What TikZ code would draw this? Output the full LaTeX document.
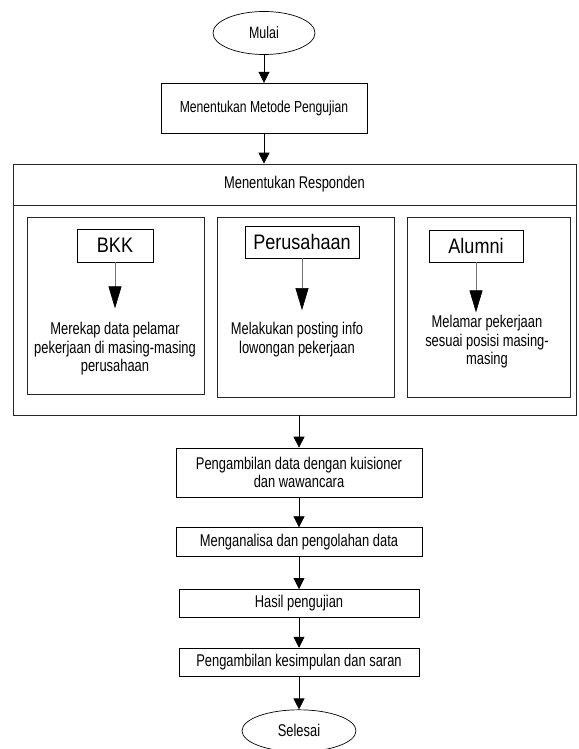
\documentclass[tikz,border=0pt]{standalone}
\usepackage{fontspec}
\setmainfont{Liberation Sans}[FakeStretch=0.76]
\newfontfamily\tagfont{Liberation Sans}[FakeStretch=0.86]
\usetikzlibrary{arrows.meta,positioning,shapes.geometric}

\begin{document}
\begin{tikzpicture}[x=1pt, y=-1pt, node distance=30pt,
    box/.style={rectangle, draw, line width=0.7pt, inner sep=0pt, align=center, font=\fontsize{17}{18.5}\selectfont},
    term/.style={ellipse, draw, line width=0.7pt, inner sep=0pt, font=\fontsize{16.4}{18}\selectfont},
    panel/.style={rectangle, draw=black!85, line width=0.7pt, inner sep=0pt},
    tag/.style={rectangle, draw, line width=0.7pt, inner sep=0pt, font=\tagfont\fontsize{21}{22}\selectfont},
    note/.style={inner sep=0pt, align=center, font=\fontsize{17}{18.5}\selectfont},
    arrow/.style={-{Triangle[length=11pt,width=11pt]}, line width=0.7pt},
    drop/.style={-{Triangle[length=22pt,width=13pt,color=black]}, draw=black!55, line width=0.6pt}]
    \useasboundingbox (0,0) rectangle (578,749);

    \node[term, minimum width=102pt, minimum height=43pt] (mulai) at (264,33) {Mulai};
    \node[box, minimum width=206pt, minimum height=50pt, font=\fontsize{16}{18}\selectfont, below=28pt of mulai] (metode) {Menentukan Metode Pengujian};

    % kotak responden
    \node[panel, minimum width=563pt, minimum height=251pt] (frame) at (294.5,289.5) {};
    \node[box, draw=black!85, minimum width=563pt, minimum height=41pt, anchor=north] (responden) at (frame.north) {Menentukan Responden};

    \node[panel, minimum width=177pt, minimum height=177pt] (bkkpanel) at (115.5,305.5) {};
    \node[panel, minimum width=177pt, minimum height=180pt] (peruspanel) at (305.5,307) {};
    \node[panel, minimum width=163pt, minimum height=180pt] (alumnipanel) at (488.5,307) {};

    \node[tag, minimum width=76pt, minimum height=33pt] (bkk) at (115,245.5) {BKK};
    \node[tag, minimum width=114pt, minimum height=32pt] (perus) at (302,242) {Perusahaan};
    \node[tag, minimum width=94pt, minimum height=32pt] (alumni) at (476,246) {Alumni};

    \node[note] (bkktext) at (115,349) {Merekap data pelamar\\pekerjaan di masing-masing\\perusahaan};
    \node[note] (perustext) at (297,339.5) {Melakukan posting info\\lowongan pekerjaan};
    \node[note] (alumnitext) at (487,342) {Melamar pekerjaan\\sesuai posisi masing-\\masing};

    \draw[drop, shorten >=14pt] (bkk) -- (bkk.south |- bkktext.north);
    \draw[drop, shorten >=12pt] (perus) -- (perus.south |- perustext.north);
    \draw[drop, shorten >=3pt] (alumni) -- (alumni.south |- alumnitext.north);

    % tahap akhir
    \node[box, minimum width=246pt, minimum height=49pt] (kuisioner) at (299,472.5) {Pengambilan data dengan kuisioner\\dan wawancara};
    \node[box, minimum width=246pt, minimum height=29pt, below=of kuisioner] (analisa) {Menganalisa dan pengolahan data};
    \node[box, minimum width=240pt, minimum height=28pt, below=32pt of analisa] (hasil) {Hasil pengujian};
    \node[box, minimum width=240pt, minimum height=28pt, below=of hasil] (simpulan) {Pengambilan kesimpulan dan saran};
    \node[term, minimum width=114pt, minimum height=42pt, font=\fontsize{17}{18}\selectfont, below=33pt of simpulan] (selesai) {Selesai};

    \draw[arrow] (mulai) -- (metode);
    \draw[arrow] (metode) -- (metode.south |- frame.north);
    \draw[arrow] (kuisioner.north |- frame.south) -- (kuisioner);
    \draw[arrow] (kuisioner) -- (analisa);
    \draw[arrow] (analisa) -- (hasil);
    \draw[arrow] (hasil) -- (simpulan);
    \draw[arrow] (simpulan) -- (selesai);
\end{tikzpicture}
\end{document}
